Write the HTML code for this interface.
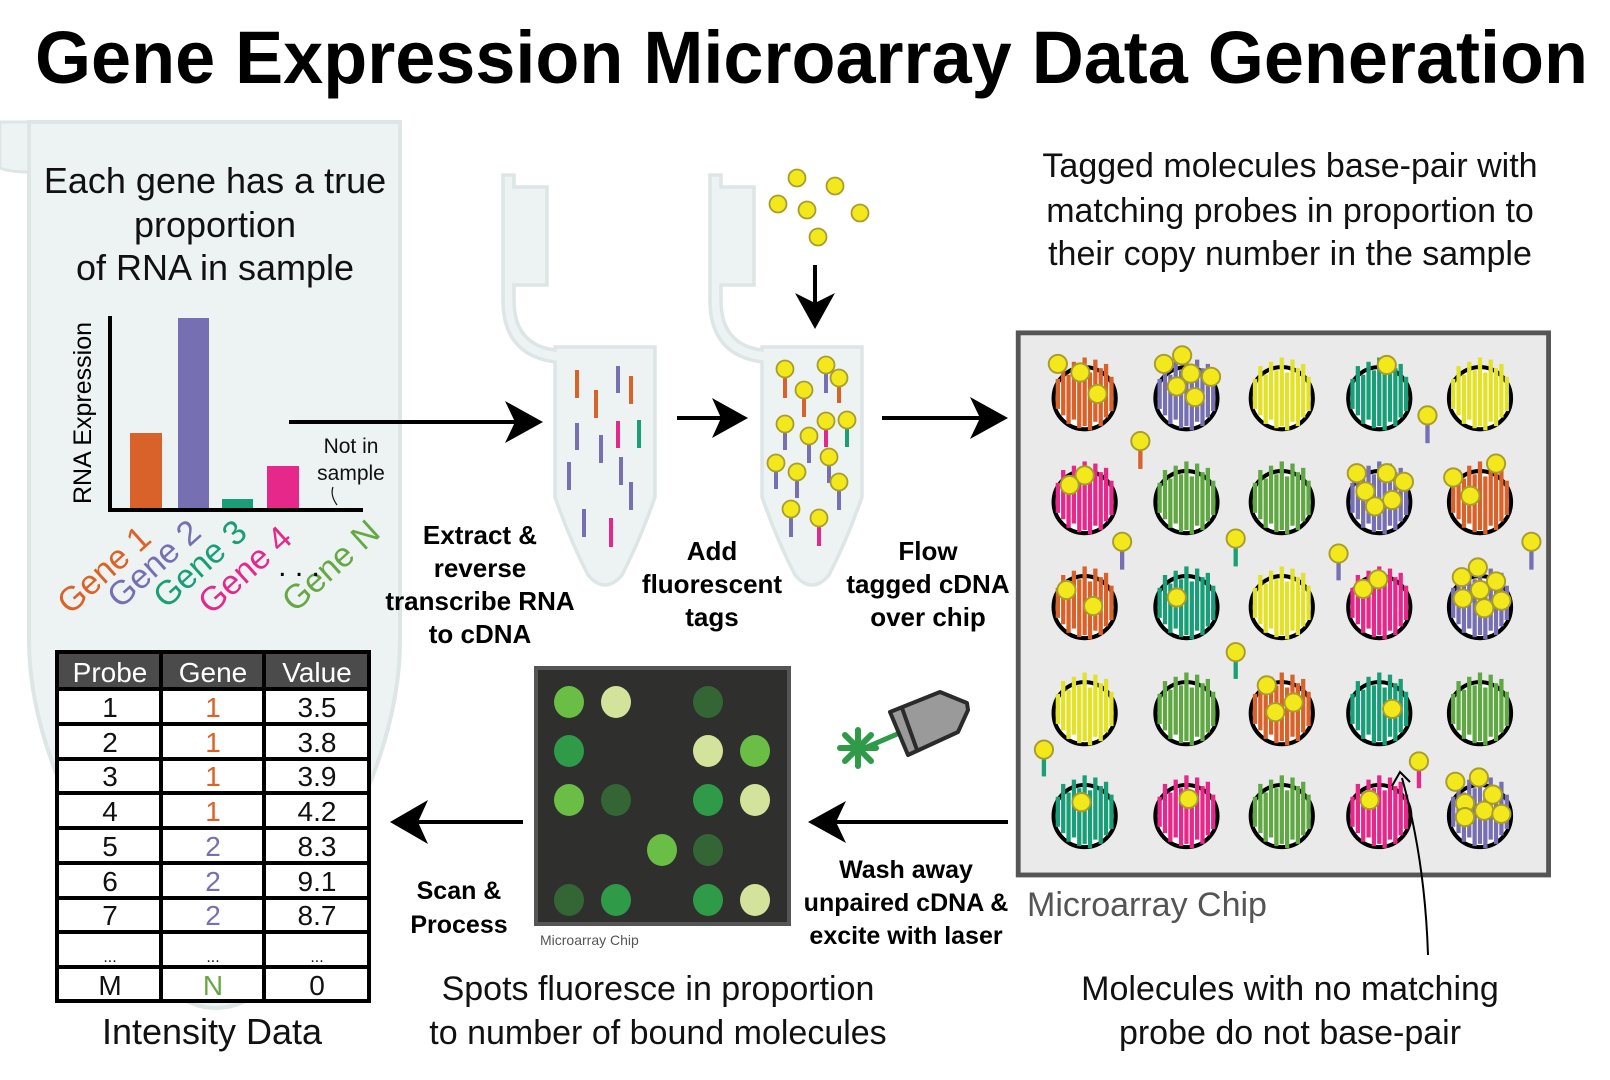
<!DOCTYPE html>
<html><head><meta charset="utf-8"><style>
html,body{margin:0;padding:0;background:#fff;}
svg{display:block;}
text{font-family:"Liberation Sans",sans-serif;}
</style></head><body>
<svg width="1610" height="1080" viewBox="0 0 1610 1080" xmlns="http://www.w3.org/2000/svg">
<defs>
<g id="bars">
<rect x="-27" y="-18" width="4" height="28"/><rect x="-22" y="-30" width="4" height="46"/><rect x="-17" y="-22" width="4" height="46"/><rect x="-12" y="-34" width="4" height="54"/><rect x="-7" y="-26" width="4" height="54"/><rect x="-2" y="-38" width="4" height="64"/><rect x="3" y="-24" width="4" height="54"/><rect x="8" y="-36" width="4" height="58"/><rect x="13" y="-28" width="4" height="54"/><rect x="18" y="-32" width="4" height="50"/><rect x="23" y="-20" width="4" height="32"/>
</g>
<g id="tag"><circle r="8.5" fill="#f2e81c" stroke="#a89c2a" stroke-width="1.8"/></g>
</defs>

<text x="35" y="83" font-size="74" font-weight="bold" textLength="1553" lengthAdjust="spacingAndGlyphs" fill="#000">Gene Expression Microarray Data Generation</text>

<!-- big tube -->
<path d="M0,122 L29,122 L29,172 Q10,172 0,168 Z" fill="#ecf3f2" stroke="#dde6e5" stroke-width="3"/>
<path d="M29,122 L29,640 C29,760 100,860 150,960 Q175,1008 216,1008 Q257,1008 282,960 C332,860 400,760 400,640 L400,122 Z" fill="#ecf3f2" stroke="#dde6e5" stroke-width="4"/>
<g font-size="36" fill="#111" text-anchor="middle">
<text x="215" y="193">Each gene has a true</text>
<text x="215" y="237">proportion</text>
<text x="215" y="280">of RNA in sample</text>
</g>
<!-- chart -->
<rect x="130" y="433" width="32" height="77" fill="#d9622b"/>
<rect x="178" y="318" width="31" height="192" fill="#7670b2"/>
<rect x="222" y="499" width="31" height="11" fill="#1a9e77"/>
<rect x="267" y="466" width="32" height="44" fill="#e6288a"/>
<path d="M110,316 L110,510 L363,510" fill="none" stroke="#000" stroke-width="4"/>
<text transform="translate(91,413) rotate(-90)" font-size="25" text-anchor="middle" fill="#000">RNA Expression</text>
<text x="351" y="453" font-size="21" text-anchor="middle" fill="#111">Not in</text>
<text x="351" y="480" font-size="21" text-anchor="middle" fill="#111">sample</text>
<path d="M333,487 Q330,495 337,505" fill="none" stroke="#111" stroke-width="1.2"/>
<g font-size="34" text-anchor="end">
<text transform="translate(153,541) rotate(-42)" fill="#dd6227">Gene 1</text>
<text transform="translate(203,535) rotate(-42)" fill="#7670b2">Gene 2</text>
<text transform="translate(249,535) rotate(-42)" fill="#1a9e77">Gene 3</text>
<text transform="translate(294,541) rotate(-42)" fill="#e6288a">Gene 4</text>
<text transform="translate(382,535) rotate(-42)" fill="#66a844">Gene N</text>
</g>
<text x="299" y="576" font-size="30" text-anchor="middle" fill="#000">. . .</text>

<!-- arrow 1 -->
<line x1="289" y1="422" x2="520" y2="422" stroke="#000" stroke-width="4"/>
<polygon points="543,422 505,401 515,422 505,443" fill="#000"/>

<!-- tube 2 -->
<g id="tube2">
<path d="M503,175 L514,175 L514,187 L547,187 L547,285 L514,285 L514,300 Q514,345 555,350 L555,347 L655,347 L655,497 Q640,540 622,575 Q605,595 588,575 Q570,540 555,497 L555,362 Q503,355 503,300 Z" fill="#ecf3f2" stroke="#dde6e5" stroke-width="3.5"/>
</g>
<g stroke-width="4">
<line x1="577" y1="370" x2="577" y2="398" stroke="#d9622b"/><line x1="596" y1="390" x2="596" y2="418" stroke="#d9622b"/><line x1="631" y1="376" x2="631" y2="404" stroke="#d9622b"/>
<line x1="618" y1="366" x2="618" y2="393" stroke="#7670b2"/><line x1="577" y1="423" x2="577" y2="450" stroke="#7670b2"/><line x1="601" y1="435" x2="601" y2="463" stroke="#7670b2"/><line x1="569" y1="462" x2="569" y2="490" stroke="#7670b2"/><line x1="621" y1="457" x2="621" y2="485" stroke="#7670b2"/><line x1="631" y1="482" x2="631" y2="510" stroke="#7670b2"/><line x1="584" y1="509" x2="584" y2="537" stroke="#7670b2"/>
<line x1="618" y1="421" x2="618" y2="448" stroke="#e6288a"/><line x1="611" y1="518" x2="611" y2="547" stroke="#e6288a"/>
<line x1="639" y1="420" x2="639" y2="448" stroke="#1a9e77"/>
</g>
<g font-size="26" font-weight="bold" text-anchor="middle" fill="#000">
<text x="480" y="544">Extract &amp;</text><text x="480" y="577">reverse</text><text x="480" y="610">transcribe RNA</text><text x="480" y="643">to cDNA</text>
<text x="712" y="560">Add</text><text x="712" y="593">fluorescent</text><text x="712" y="626">tags</text>
<text x="928" y="560">Flow</text><text x="928" y="593">tagged cDNA</text><text x="928" y="626">over chip</text>
</g>

<!-- arrow 2 -->
<line x1="677" y1="418" x2="728" y2="418" stroke="#000" stroke-width="4"/>
<polygon points="748,418 712,398 721,418 712,438" fill="#000"/>

<!-- tube 3 -->
<use href="#tube2" x="207"/>
<g stroke-width="4">
<line x1="785" y1="369" x2="785" y2="398" stroke="#d9622b"/><line x1="826" y1="365" x2="826" y2="393" stroke="#7670b2"/><line x1="839" y1="378" x2="839" y2="403" stroke="#d9622b"/><line x1="804" y1="390" x2="804" y2="417" stroke="#d9622b"/><line x1="785" y1="424" x2="785" y2="450" stroke="#7670b2"/><line x1="826" y1="421" x2="826" y2="447" stroke="#e6288a"/><line x1="847" y1="420" x2="847" y2="447" stroke="#1a9e77"/><line x1="809" y1="436" x2="809" y2="463" stroke="#7670b2"/><line x1="776" y1="463" x2="776" y2="489" stroke="#7670b2"/><line x1="829" y1="457" x2="829" y2="483" stroke="#7670b2"/><line x1="797" y1="472" x2="797" y2="498" stroke="#7670b2"/><line x1="839" y1="482" x2="839" y2="510" stroke="#7670b2"/><line x1="791" y1="509" x2="791" y2="537" stroke="#7670b2"/><line x1="819" y1="518" x2="819" y2="546" stroke="#e6288a"/>
</g>
<use href="#tag" x="785" y="369"/><use href="#tag" x="826" y="365"/><use href="#tag" x="839" y="378"/><use href="#tag" x="804" y="390"/><use href="#tag" x="785" y="424"/><use href="#tag" x="826" y="421"/><use href="#tag" x="847" y="420"/><use href="#tag" x="809" y="436"/><use href="#tag" x="776" y="463"/><use href="#tag" x="829" y="457"/><use href="#tag" x="797" y="472"/><use href="#tag" x="839" y="482"/><use href="#tag" x="791" y="509"/><use href="#tag" x="819" y="518"/>
<!-- falling tags -->
<use href="#tag" x="797" y="178"/><use href="#tag" x="835" y="186"/><use href="#tag" x="778" y="204"/><use href="#tag" x="807" y="210"/><use href="#tag" x="860" y="213"/><use href="#tag" x="818" y="237"/>
<line x1="815" y1="265" x2="815" y2="310" stroke="#000" stroke-width="4"/>
<polygon points="815,329 795,293 815,303 835,293" fill="#000"/>

<!-- arrow 3 -->
<line x1="882" y1="418" x2="988" y2="418" stroke="#000" stroke-width="4"/>
<polygon points="1008,418 970,397 980,418 970,439" fill="#000"/>

<g font-size="34" text-anchor="middle" fill="#111">
<text x="1290" y="177">Tagged molecules base-pair with</text>
<text x="1290" y="222">matching probes in proportion to</text>
<text x="1290" y="265">their copy number in the sample</text>
</g>

<!-- big chip -->
<g transform="translate(1000,320) scale(1.0714) translate(-1000,-320)">
<rect x="1017" y="332" width="495" height="506" fill="#e9eae9" stroke="#555" stroke-width="4.5"/>
<g fill="#fff" stroke="#000" stroke-width="3.8">
<circle cx="1079" cy="393" r="29"/><circle cx="1174" cy="393" r="29"/><circle cx="1263" cy="393" r="29"/><circle cx="1354" cy="393" r="29"/><circle cx="1448" cy="393" r="29"/>
<circle cx="1079" cy="490" r="29"/><circle cx="1174" cy="490" r="29"/><circle cx="1263" cy="490" r="29"/><circle cx="1354" cy="490" r="29"/><circle cx="1448" cy="490" r="29"/>
<circle cx="1079" cy="588" r="29"/><circle cx="1174" cy="588" r="29"/><circle cx="1263" cy="588" r="29"/><circle cx="1354" cy="588" r="29"/><circle cx="1448" cy="588" r="29"/>
<circle cx="1079" cy="687" r="29"/><circle cx="1174" cy="687" r="29"/><circle cx="1263" cy="687" r="29"/><circle cx="1354" cy="687" r="29"/><circle cx="1448" cy="687" r="29"/>
<circle cx="1079" cy="783" r="29"/><circle cx="1174" cy="783" r="29"/><circle cx="1263" cy="783" r="29"/><circle cx="1354" cy="783" r="29"/><circle cx="1448" cy="783" r="29"/>
</g>
<use href="#bars" x="1079" y="393" fill="#d9622b"/><use href="#bars" x="1174" y="393" fill="#7670b2"/><use href="#bars" x="1263" y="393" fill="#e3e22a"/><use href="#bars" x="1354" y="393" fill="#1a9e77"/><use href="#bars" x="1448" y="393" fill="#e3e22a"/>
<use href="#bars" x="1079" y="490" fill="#e6288a"/><use href="#bars" x="1174" y="490" fill="#5fa843"/><use href="#bars" x="1263" y="490" fill="#5fa843"/><use href="#bars" x="1354" y="490" fill="#7670b2"/><use href="#bars" x="1448" y="490" fill="#d9622b"/>
<use href="#bars" x="1079" y="588" fill="#d9622b"/><use href="#bars" x="1174" y="588" fill="#1a9e77"/><use href="#bars" x="1263" y="588" fill="#e3e22a"/><use href="#bars" x="1354" y="588" fill="#e6288a"/><use href="#bars" x="1448" y="588" fill="#7670b2"/>
<use href="#bars" x="1079" y="687" fill="#e3e22a"/><use href="#bars" x="1174" y="687" fill="#5fa843"/><use href="#bars" x="1263" y="687" fill="#d9622b"/><use href="#bars" x="1354" y="687" fill="#1a9e77"/><use href="#bars" x="1448" y="687" fill="#5fa843"/>
<use href="#bars" x="1079" y="783" fill="#1a9e77"/><use href="#bars" x="1174" y="783" fill="#e6288a"/><use href="#bars" x="1263" y="783" fill="#5fa843"/><use href="#bars" x="1354" y="783" fill="#e6288a"/><use href="#bars" x="1448" y="783" fill="#7670b2"/>
<!-- bound tags -->
<use href="#tag" x="1054" y="361"/><use href="#tag" x="1075" y="369"/><use href="#tag" x="1091" y="389"/>
<use href="#tag" x="1153" y="361"/><use href="#tag" x="1170" y="353"/><use href="#tag" x="1178" y="370"/><use href="#tag" x="1197" y="373"/><use href="#tag" x="1165" y="382"/><use href="#tag" x="1182" y="392"/>
<use href="#tag" x="1361" y="362"/>
<use href="#tag" x="1079" y="465"/><use href="#tag" x="1065" y="474"/>
<use href="#tag" x="1333" y="463"/><use href="#tag" x="1361" y="463"/><use href="#tag" x="1377" y="471"/><use href="#tag" x="1341" y="480"/><use href="#tag" x="1366" y="488"/><use href="#tag" x="1350" y="494"/>
<use href="#tag" x="1423" y="467"/><use href="#tag" x="1463" y="454"/><use href="#tag" x="1439" y="484"/>
<use href="#tag" x="1062" y="572"/><use href="#tag" x="1087" y="587"/>
<use href="#tag" x="1165" y="579"/>
<use href="#tag" x="1339" y="571"/><use href="#tag" x="1353" y="562"/>
<use href="#tag" x="1446" y="551"/><use href="#tag" x="1431" y="560"/><use href="#tag" x="1463" y="564"/><use href="#tag" x="1448" y="572"/><use href="#tag" x="1432" y="580"/><use href="#tag" x="1468" y="582"/><use href="#tag" x="1452" y="589"/>
<use href="#tag" x="1249" y="661"/><use href="#tag" x="1274" y="677"/><use href="#tag" x="1257" y="686"/>
<use href="#tag" x="1366" y="683"/>
<use href="#tag" x="1076" y="770"/><use href="#tag" x="1176" y="767"/><use href="#tag" x="1345" y="768"/>
<use href="#tag" x="1425" y="751"/><use href="#tag" x="1447" y="747"/><use href="#tag" x="1460" y="763"/><use href="#tag" x="1434" y="771"/><use href="#tag" x="1452" y="778"/><use href="#tag" x="1468" y="781"/><use href="#tag" x="1434" y="784"/>
<!-- free tags -->
<g stroke-width="4">
<line x1="1131" y1="433" x2="1131" y2="459" stroke="#d9622b"/><line x1="1399" y1="409" x2="1399" y2="435" stroke="#7670b2"/><line x1="1114" y1="527" x2="1114" y2="553" stroke="#7670b2"/><line x1="1220" y1="524" x2="1220" y2="550" stroke="#1a9e77"/><line x1="1316" y1="538" x2="1316" y2="563" stroke="#7670b2"/><line x1="1496" y1="527" x2="1496" y2="553" stroke="#7670b2"/><line x1="1220" y1="630" x2="1220" y2="655" stroke="#1a9e77"/><line x1="1041" y1="721" x2="1041" y2="746" stroke="#1a9e77"/><line x1="1391" y1="732" x2="1391" y2="757" stroke="#e6288a"/>
</g>
<use href="#tag" x="1131" y="433"/><use href="#tag" x="1399" y="409"/><use href="#tag" x="1114" y="527"/><use href="#tag" x="1220" y="524"/><use href="#tag" x="1316" y="538"/><use href="#tag" x="1496" y="527"/><use href="#tag" x="1220" y="630"/><use href="#tag" x="1041" y="721"/><use href="#tag" x="1391" y="732"/>
</g>
<text x="1027" y="916" font-size="34" fill="#555">Microarray Chip</text>
<!-- curved pointer -->
<path d="M1428,955 Q1425,860 1402,778" fill="none" stroke="#000" stroke-width="2"/>
<path d="M1392,786 L1400,772 L1410,782" fill="none" stroke="#000" stroke-width="2"/>
<g font-size="34" text-anchor="middle" fill="#111">
<text x="1290" y="1000">Molecules with no matching</text>
<text x="1290" y="1044">probe do not base-pair</text>
</g>

<!-- wash arrow -->
<line x1="1008" y1="822" x2="828" y2="822" stroke="#000" stroke-width="4"/>
<polygon points="808,822 846,801 836,822 846,843" fill="#000"/>
<g font-size="25" font-weight="bold" text-anchor="middle" fill="#000">
<text x="906" y="878">Wash away</text><text x="906" y="911">unpaired cDNA &amp;</text><text x="906" y="944">excite with laser</text>
<text x="459" y="899">Scan &amp;</text><text x="459" y="933">Process</text>
</g>
<!-- laser -->
<line x1="860" y1="750" x2="902" y2="732" stroke="#2f9a48" stroke-width="5"/>
<g stroke="#2f9a48" stroke-width="6" stroke-linecap="round">
<line x1="858" y1="730" x2="858" y2="766"/><line x1="840" y1="748" x2="876" y2="748"/><line x1="845" y1="735" x2="871" y2="761"/><line x1="845" y1="761" x2="871" y2="735"/>
</g>
<polygon points="890,712 940,692 967,703 968,710 958,732 908,755" fill="#9a9a9a" stroke="#2b2b2b" stroke-width="4" stroke-linejoin="round"/>
<line x1="902" y1="708" x2="917" y2="750" stroke="#2b2b2b" stroke-width="4"/>

<!-- dark chip -->
<rect x="536" y="668" width="253" height="256" fill="#2f2f2e" stroke="#555" stroke-width="4"/>
<g>
<ellipse cx="569" cy="702" rx="15" ry="16" fill="#6abd45"/><ellipse cx="616" cy="702" rx="15" ry="16" fill="#d3e39b"/><ellipse cx="708" cy="702" rx="15" ry="16" fill="#336634"/>
<ellipse cx="569" cy="751" rx="15" ry="16" fill="#2f9a48"/><ellipse cx="708" cy="751" rx="15" ry="16" fill="#d3e39b"/><ellipse cx="755" cy="751" rx="15" ry="16" fill="#6abd45"/>
<ellipse cx="569" cy="800" rx="15" ry="16" fill="#6abd45"/><ellipse cx="616" cy="800" rx="15" ry="16" fill="#336634"/><ellipse cx="708" cy="800" rx="15" ry="16" fill="#2f9a48"/><ellipse cx="755" cy="800" rx="15" ry="16" fill="#d3e39b"/>
<ellipse cx="662" cy="850" rx="15" ry="16" fill="#6abd45"/><ellipse cx="708" cy="850" rx="15" ry="16" fill="#336634"/>
<ellipse cx="569" cy="900" rx="15" ry="16" fill="#336634"/><ellipse cx="616" cy="900" rx="15" ry="16" fill="#2f9a48"/><ellipse cx="708" cy="900" rx="15" ry="16" fill="#2f9a48"/><ellipse cx="755" cy="900" rx="15" ry="16" fill="#d3e39b"/>
</g>
<text x="540" y="945" font-size="14" fill="#555">Microarray Chip</text>
<g font-size="34" text-anchor="middle" fill="#111">
<text x="658" y="1000">Spots fluoresce in proportion</text>
<text x="658" y="1044">to number of bound molecules</text>
</g>

<!-- scan arrow -->
<line x1="523" y1="822" x2="412" y2="822" stroke="#000" stroke-width="4"/>
<polygon points="390,822 428,800 418,822 428,844" fill="#000"/>

<!-- table -->
<rect x="57" y="652" width="312" height="36" fill="#4b4b4b"/>
<rect x="57" y="688" width="312" height="313" fill="#fff"/>
<g stroke="#000" stroke-width="4" fill="none">
<rect x="57" y="652" width="312" height="349"/>
<line x1="161" y1="652" x2="161" y2="1001"/><line x1="264" y1="652" x2="264" y2="1001"/>
<line x1="57" y1="689" x2="369" y2="689"/><line x1="57" y1="724" x2="369" y2="724"/><line x1="57" y1="759" x2="369" y2="759"/><line x1="57" y1="793" x2="369" y2="793"/><line x1="57" y1="828" x2="369" y2="828"/><line x1="57" y1="863" x2="369" y2="863"/><line x1="57" y1="898" x2="369" y2="898"/><line x1="57" y1="932" x2="369" y2="932"/><line x1="57" y1="967" x2="369" y2="967"/>
</g>
<g font-size="28" text-anchor="middle" fill="#111">
<text x="110" y="682" fill="#fff">Probe</text><text x="213" y="682" fill="#fff">Gene</text><text x="317" y="682" fill="#fff">Value</text>
<text x="110" y="717">1</text><text x="213" y="717" fill="#dd6227">1</text><text x="317" y="717">3.5</text>
<text x="110" y="752">2</text><text x="213" y="752" fill="#dd6227">1</text><text x="317" y="752">3.8</text>
<text x="110" y="786">3</text><text x="213" y="786" fill="#dd6227">1</text><text x="317" y="786">3.9</text>
<text x="110" y="821">4</text><text x="213" y="821" fill="#dd6227">1</text><text x="317" y="821">4.2</text>
<text x="110" y="856">5</text><text x="213" y="856" fill="#7670b2">2</text><text x="317" y="856">8.3</text>
<text x="110" y="891">6</text><text x="213" y="891" fill="#7670b2">2</text><text x="317" y="891">9.1</text>
<text x="110" y="925">7</text><text x="213" y="925" fill="#7670b2">2</text><text x="317" y="925">8.7</text>
<text x="110" y="962" font-size="16">...</text><text x="213" y="962" font-size="16">...</text><text x="317" y="962" font-size="16">...</text>
<text x="110" y="995">M</text><text x="213" y="995" fill="#66a844">N</text><text x="317" y="995">0</text>
</g>
<text x="212" y="1044" font-size="36" text-anchor="middle" fill="#111">Intensity Data</text>
</svg>
</body></html>
